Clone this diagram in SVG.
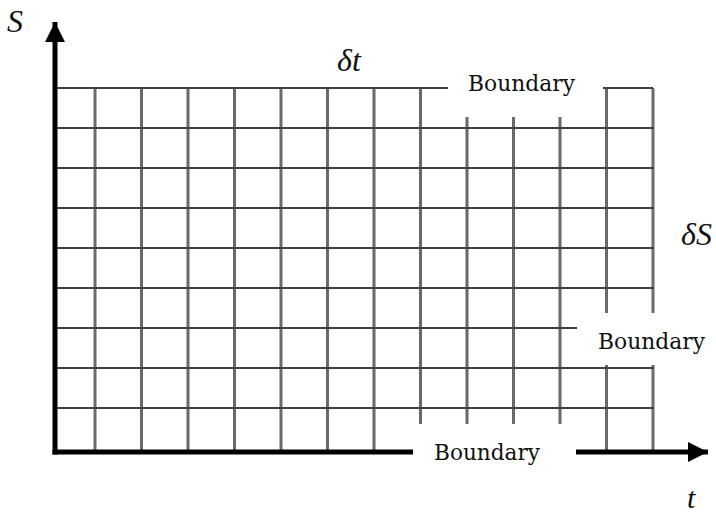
<svg xmlns="http://www.w3.org/2000/svg" width="716" height="517" viewBox="0 0 716 517">
<style>
.v{stroke:#6a6a6a;stroke-width:3;fill:none}
.h{stroke:#404040;stroke-width:2;fill:none}
.ax{stroke:#000;stroke-width:5;fill:none}
.lbl{font-family:"DejaVu Serif",serif;font-size:23px;fill:#111}
.it{font-family:"Liberation Serif","Times New Roman",serif;font-style:italic;font-size:32px;fill:#111}
</style>
<defs>
<marker id="arr" viewBox="0 0 20 20" refX="20" refY="10" markerWidth="20" markerHeight="20" markerUnits="userSpaceOnUse" orient="auto">
<path d="M0,0 L20,10 L0,20 Z" fill="#000"/>
</marker>
</defs>
<rect width="716" height="517" fill="#fff"/>
<g id="grid">
<g id="vertical-lines">
<line class="v" x1="95" y1="88" x2="95" y2="452"/>
<line class="v" x1="141.5" y1="88" x2="141.5" y2="452"/>
<line class="v" x1="188" y1="88" x2="188" y2="452"/>
<line class="v" x1="234.5" y1="88" x2="234.5" y2="452"/>
<line class="v" x1="281" y1="88" x2="281" y2="452"/>
<line class="v" x1="327.5" y1="88" x2="327.5" y2="452"/>
<line class="v" x1="374" y1="88" x2="374" y2="452"/>
<line class="v" x1="420.5" y1="88" x2="420.5" y2="424"/>
<line class="v" x1="467" y1="117" x2="467" y2="424"/>
<line class="v" x1="513.5" y1="117" x2="513.5" y2="424"/>
<line class="v" x1="560" y1="117" x2="560" y2="424"/>
<line class="v" x1="606.5" y1="88" x2="606.5" y2="313"/>
<line class="v" x1="653" y1="88" x2="653" y2="313"/>
<line class="v" x1="606.5" y1="365" x2="606.5" y2="452"/>
<line class="v" x1="653" y1="365" x2="653" y2="452"/>
</g>
<g id="horizontal-lines">
<line class="h" x1="55" y1="88" x2="448" y2="88"/>
<line class="h" x1="603" y1="88" x2="653" y2="88"/>
<line class="h" x1="55" y1="128" x2="654" y2="128"/>
<line class="h" x1="55" y1="168" x2="654" y2="168"/>
<line class="h" x1="55" y1="208" x2="654" y2="208"/>
<line class="h" x1="55" y1="248" x2="654" y2="248"/>
<line class="h" x1="55" y1="288" x2="654" y2="288"/>
<line class="h" x1="55" y1="328" x2="577" y2="328"/>
<line class="h" x1="55" y1="368" x2="654" y2="368"/>
<line class="h" x1="55" y1="408" x2="654" y2="408"/>
</g>
</g>
<g id="axes">
<line class="ax" x1="55" y1="454.5" x2="55" y2="22" marker-end="url(#arr)"/>
<line class="ax" x1="52.5" y1="452" x2="413" y2="452"/>
<line class="ax" x1="576" y1="452" x2="708" y2="452" marker-end="url(#arr)"/>
</g>
<g id="labels">
<text class="it" x="7" y="32">S</text>
<text class="it" x="337" y="71">δt</text>
<text class="it" x="681" y="245">δS</text>
<text class="it" x="687" y="508" style="font-size:30px">t</text>
<text class="lbl" x="468" y="91" textLength="107" lengthAdjust="spacingAndGlyphs">Boundary</text>
<text class="lbl" x="598" y="349" textLength="107" lengthAdjust="spacingAndGlyphs">Boundary</text>
<text class="lbl" x="434" y="460" textLength="106" lengthAdjust="spacingAndGlyphs">Boundary</text>
</g>
</svg>
